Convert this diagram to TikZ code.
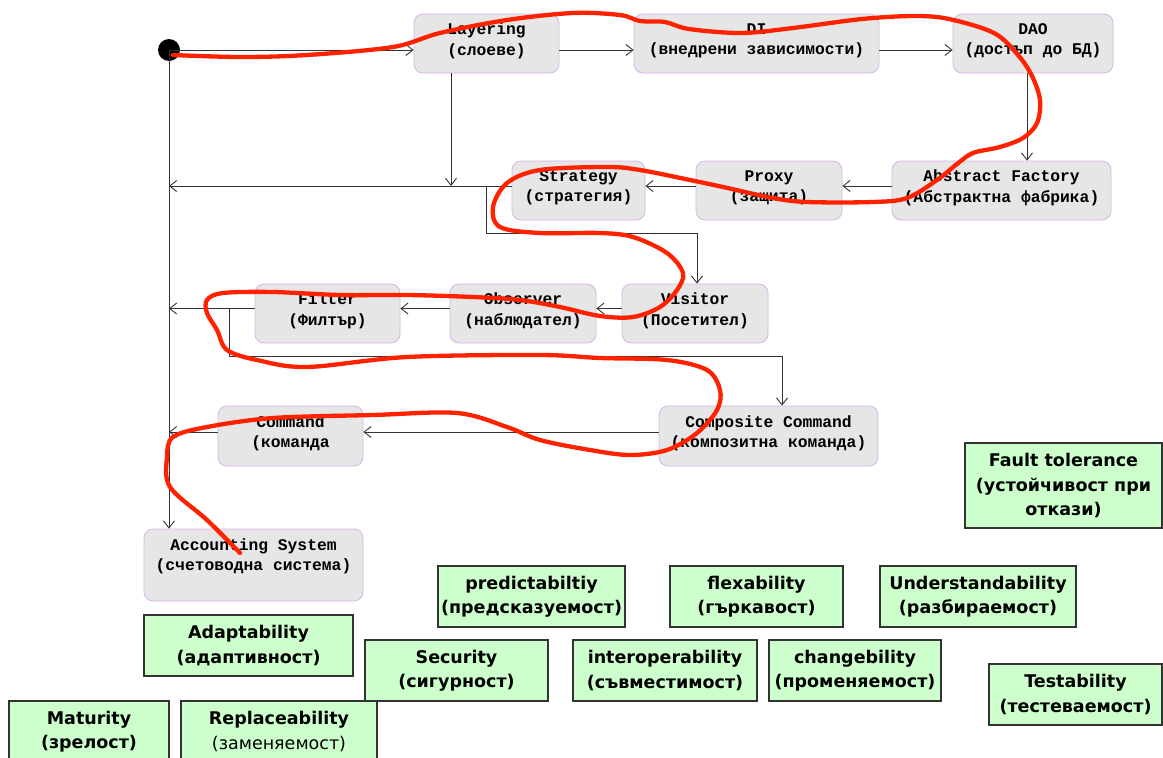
\documentclass[tikz,border=0pt]{standalone}
\usepackage{fontspec}
\usetikzlibrary{arrows.meta}
\newfontfamily\monofam{Liberation Mono}
\newfontfamily\qsans{DejaVu Sans}
\definecolor{boxfill}{HTML}{E6E6E6}
\definecolor{boxedge}{HTML}{D8B4E8}
\definecolor{qfill}{HTML}{CCFFCC}
\definecolor{qedge}{HTML}{333333}
\definecolor{lineg}{HTML}{333333}
\definecolor{scrib}{HTML}{FF2200}
\tikzset{
  gbox/.style={draw=boxedge, fill=boxfill, rounded corners=9pt, line width=0.8pt,
    font=\monofam\bfseries\fontsize{16.3}{20.5}\selectfont, align=center, inner sep=0pt,
    text depth=9pt},
  qbox/.style={draw=qedge, fill=qfill, line width=1.4pt,
    font=\qsans\bfseries\fontsize{17.5}{24.5}\selectfont, align=center, inner sep=0pt},
  conn/.style={draw=lineg, line width=0.9pt, -{Straight Barb[length=7pt,width=11pt]}},
}
\begin{document}
\begin{tikzpicture}[x=1pt,y=-1pt]
\useasboundingbox (0,0) rectangle (1163,758);
\clip (0,0) rectangle (1163,758);
\fill[white] (0,0) rectangle (1163,758);

% start dot
\node[circle, fill=black, minimum size=22pt, inner sep=0pt] (start) at (169,50) {};

% gray boxes
\node[gbox, minimum width=145pt, minimum height=59pt] (lay) at (486.5,43.5) {Layering\\(слоеве)};
\node[gbox, minimum width=245pt, minimum height=59pt] (di) at (756.5,43.5) {DI\\(внедрени зависимости)};
\node[gbox, minimum width=160pt, minimum height=59pt] (dao) at (1033,43.5) {DAO\\(достъп до БД)};
\node[gbox, minimum width=219pt, minimum height=59pt] (af) at (1001.5,190.5) {Abstract Factory\\(Абстрактна фабрика)};
\node[gbox, minimum width=146pt, minimum height=59pt] (proxy) at (769,190.5) {Proxy\\(защита)};
\node[gbox, minimum width=133pt, minimum height=59pt] (strat) at (578.5,190.5) {Strategy\\(стратегия)};
\node[gbox, minimum width=146pt, minimum height=59pt] (vis) at (695,313.5) {Visitor\\(Посетител)};
\node[gbox, minimum width=146pt, minimum height=59pt] (obs) at (523,313.5) {Observer\\(наблюдател)};
\node[gbox, minimum width=145pt, minimum height=59pt] (filt) at (327.5,313.5) {Filter\\(Филтър)};
\node[gbox, minimum width=219pt, minimum height=60pt] (cc) at (768.5,436) {Composite Command\\(композитна команда)};
\node[gbox, minimum width=145pt, minimum height=60pt] (cmd) at (290.5,436) {Command\\(команда};
\node[gbox, minimum width=219pt, minimum height=72pt, text depth=0pt] (acc) at (253.5,565) {Accounting System\\(счетоводна система)\\ };

% green quality boxes
\node[qbox, minimum width=197pt, minimum height=85pt] (ft) at (1063.5,485.5) {Fault tolerance\\(устойчивост при\\откази)};
\node[qbox, minimum width=187pt, minimum height=61pt] (pred) at (531.5,596.5) {predictabiltiy\\(предсказуемост)};
\node[qbox, minimum width=173pt, minimum height=61pt] (flex) at (756.5,596.5) {flexability\\(гъркавост)};
\node[qbox, minimum width=196pt, minimum height=61pt] (und) at (978,596.5) {Understandability\\(разбираемост)};
\node[qbox, minimum width=209pt, minimum height=61pt] (adapt) at (248.5,645.5) {Adaptability\\(адаптивност)};
\node[qbox, minimum width=183pt, minimum height=61pt] (sec) at (456.5,670.5) {Security\\(сигурност)};
\node[qbox, minimum width=184pt, minimum height=61pt] (inter) at (665,670.5) {interoperability\\(съвместимост)};
\node[qbox, minimum width=172pt, minimum height=61pt] (chg) at (855,670.5) {changebility\\(променяемост)};
\node[qbox, minimum width=173pt, minimum height=61pt] (test) at (1075.5,694.5) {Testability\\(тестеваемост)};
\node[qbox, minimum width=160pt, minimum height=61pt] (mat) at (89,731.5) {Maturity\\(зрелост)};
\node[qbox, minimum width=196pt, minimum height=61pt] (repl) at (279,731.5) {Replaceability\\{\mdseries (заменяемост)}};

% helper coordinates
\coordinate (r2) at ([yshift=4.5pt]strat.west);
\coordinate (layd) at ([xshift=-35.5pt]lay.south);
\coordinate (sv) at ([xshift=-25pt]r2);
\coordinate (r3) at ([yshift=5pt]filt.west);
\coordinate (fc) at ([xshift=-25pt]r3);
\coordinate (r4) at ([yshift=4pt]cmd.west);
\coordinate (daod) at ([xshift=-6pt]dao.south);

% connectors
\draw[conn] (start.center) -- (lay.west |- start.center);
\draw[conn] (lay.east |- start.center) -- (di.west |- start.center);
\draw[conn] (di.east |- start.center) -- (dao.west |- start.center);
\draw[conn] (daod) -- (daod |- af.north);
\draw[conn] ([yshift=4.5pt]af.west) -- ([yshift=4.5pt]proxy.east);
\draw[conn] ([yshift=4.5pt]proxy.west) -- ([yshift=4.5pt]strat.east);
\draw[conn] (r2) -- (r2 -| start);
\draw[conn] (layd) -- (layd |- r2);
\draw[conn] (sv) -- ++(0,47) -| ([xshift=2pt]vis.north);
\draw[conn] ([yshift=5pt]vis.west) -- ([yshift=5pt]obs.east);
\draw[conn] ([yshift=5pt]obs.west) -- ([yshift=5pt]filt.east);
\draw[conn] (r3) -- (r3 -| start);
\draw[conn] (fc) -- ++(0,48) -| ([xshift=13.5pt]cc.north);
\draw[conn] ([yshift=4pt]cc.west) -- ([yshift=4pt]cmd.east);
\draw[conn] (r4) -- (r4 -| start);
\draw[conn] (start.center) -- (start |- acc.north);

% red hand-drawn scribble
\draw[scrib, line width=4.3pt, line cap=round, line join=round]
  plot[smooth, tension=0.55] coordinates {
  (173,55) (240,57) (307,55) (393,47) (440,33) (507,20) (573,13) (620,15)
  (640,21) (665,22) (689,29) (741,33) (793,28) (862,19) (914,16) (949,19)
  (994,33) (1018,55) (1032,76) (1040,100) (1037,123) (1023,138) (1000,147)
  (973,153) (957,164) (937,180) (907,198) (873,202) (807,202) (773,198)
  (723,187) (690,180) (640,170) (607,167) (540,170) (507,183) (493,207)
  (500,227) (540,233) (600,233) (633,237) (667,253) (683,273) (677,290)
  (660,307) (633,317) (600,316) (560,307) (520,300) (473,297) (407,295)
  (340,295) (273,292) (223,293) (207,300) (207,313) (217,330) (227,350)
  (257,360) (307,367) (407,357) (540,355) (600,358) (667,360) (707,370)
  (720,390) (717,410) (697,433) (667,450) (630,455) (590,450) (540,440)
  (507,427) (457,413) (373,415) (273,418) (207,427) (173,437) (167,457)
  (170,487) (207,520) (240,553)};
\end{tikzpicture}
\end{document}
